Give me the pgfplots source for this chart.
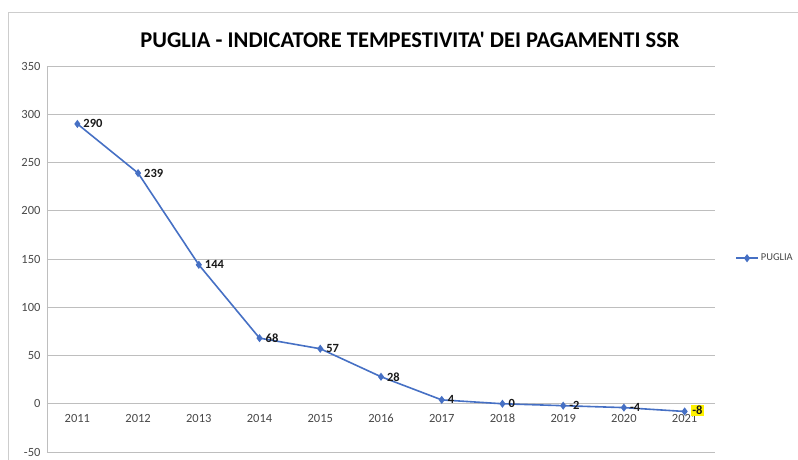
\documentclass[border=0pt]{standalone}
\usepackage{fontspec}
\setmainfont{Carlito}
\usepackage{pgfplots}
\pgfplotsset{compat=1.18}
\definecolor{serie}{RGB}{70,112,196}
\definecolor{griglia}{RGB}{190,190,190}
\definecolor{cornice}{RGB}{205,205,205}

\begin{document}
\begin{tikzpicture}[x=1pt,y=1pt]
\path[use as bounding box] (0,0) rectangle (798,459);
% cornice del grafico
\draw[cornice,line width=0.8pt] (8,-10) -- (8,447) -- (810,447);
\node[font=\fontsize{22.5}{24}\selectfont\bfseries\addfontfeatures{Ligatures=TeXOff}] at (410,419) {PUGLIA - INDICATORE TEMPESTIVITA' DEI PAGAMENTI SSR};
\begin{axis}[
  at={(47pt,7pt)},anchor=south west,
  scale only axis,
  width=668pt,height=386pt,
  xmin=-0.5,xmax=10.5,
  ymin=-50,ymax=350,
  ytick={-50,0,...,350},
  xtick={0,...,10},
  xticklabels={2011,2012,2013,2014,2015,2016,2017,2018,2019,2020,2021},
  axis x line=middle,
  axis y line=left,
  axis line style={griglia,-,line width=0.8pt},
  ymajorgrids,
  grid style={griglia,line width=0.8pt},
  major tick length=0pt,
  tick label style={font=\fontsize{12.5}{14}\selectfont,text=black!72},
  yticklabel style={xshift=-3pt},
  xticklabel style={yshift=-7pt},
  /pgf/number format/assume math mode=true,
  legend style={draw=none,fill=none,at={(1.03,0.502)},anchor=west,
    font=\fontsize{10.5}{12}\selectfont,text=black!72,inner sep=0pt},
  legend image code/.code={\draw[#1,mark repeat=2,mark phase=2] plot coordinates {(0pt,0pt) (11pt,0pt) (22pt,0pt)};},
  clip=false,
]
\addplot[serie,line width=1.6pt,mark=diamond*,mark size=2.8pt,
  nodes near coords,
  every node near coord/.append style={anchor=west,xshift=2pt,yshift=0pt,text=black!90,font=\fontsize{12.5}{14}\selectfont\bfseries},
  point meta=explicit symbolic]
  coordinates {
  (0,290) [290]
  (1,239) [239]
  (2,144) [144]
  (3,68) [68]
  (4,57) [57]
  (5,28) [28]
  (6,4) [4]
  (7,0) [0]
  (8,-2) [-2]
  (9,-4) [-4]
  (10,-8) [{}]
};
\addlegendentry{PUGLIA}
\addplot[forget plot,only marks,mark=none,
  nodes near coords,
  every node near coord/.append style={anchor=west,xshift=6pt,yshift=1pt,text=black!90,fill=yellow,inner sep=1.5pt,font=\fontsize{12.5}{14}\selectfont\bfseries},
  point meta=explicit symbolic]
  coordinates {(10,-8) [-8]};
\end{axis}
\end{tikzpicture}
\end{document}
